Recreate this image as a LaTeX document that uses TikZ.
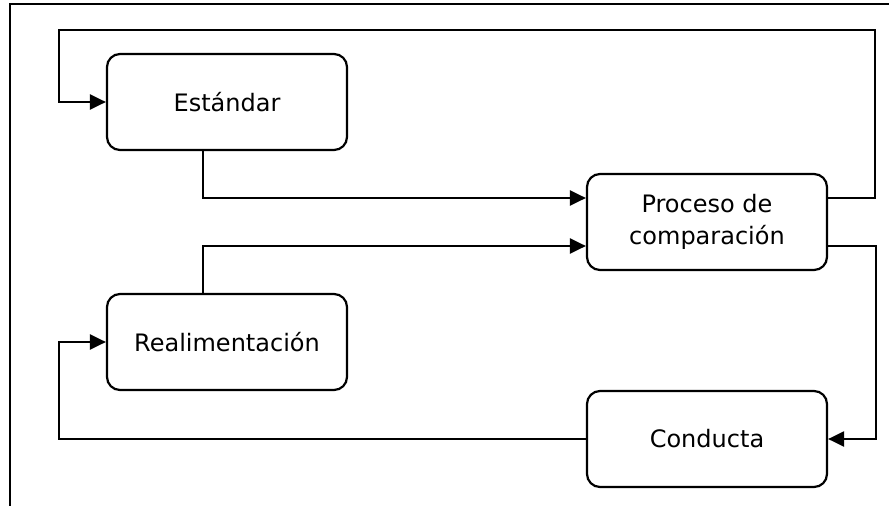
\documentclass[tikz,border=0pt]{standalone}
\usepackage{fontspec}
\setmainfont{DejaVu Sans}
\usetikzlibrary{arrows.meta}
\begin{document}
\begin{tikzpicture}[x=1pt,y=-1pt,
  block/.style={draw, line width=2.2pt, rounded corners=13pt,
    minimum width=240pt, minimum height=96pt, align=center,
    font=\fontsize{24}{32}\selectfont, inner sep=0pt},
  flow/.style={line width=2.2pt, -{Triangle[length=16pt,width=15pt]}},
  frameline/.style={line width=2.4pt}]
\useasboundingbox (0,0) rectangle (889,506);

% outer frame: top and left edges only
\coordinate (fTL) at (10,4);
\coordinate (fTR) at (889,4);
\coordinate (fBL) at (10,506);
\draw[frameline] (fTR) -- (fTL) -- (fBL);

% blocks
\node[block] (std)  at (227,102) {Estándar};
\node[block] (proc) at (707,222) {Proceso de\\comparación};
\node[block] (real) at (227,342) {Realimentación};
\node[block] (cond) at (707,439) {Conducta};

% routing corners
\coordinate (topR) at (875,30);
\coordinate (topL) at (59,30);
\coordinate (botL) at (59,439);

% standard and feedback into comparison
\draw[flow] ([xshift=-24pt]std.south) |- ([yshift=24pt]proc.west);
\draw[flow] ([xshift=-24pt]real.north) |- ([yshift=-24pt]proc.west);

% comparison back to standard
\draw[flow] ([yshift=24pt]proc.east) -| (topR) -- (topL) |- (std.west);

% comparison to behaviour
\draw[flow] ([yshift=-24pt]proc.east) -- ++(48,0) |- (cond.east);

% behaviour to feedback
\draw[flow] (cond.west) -- (botL) |- (real.west);
\end{tikzpicture}
\end{document}
